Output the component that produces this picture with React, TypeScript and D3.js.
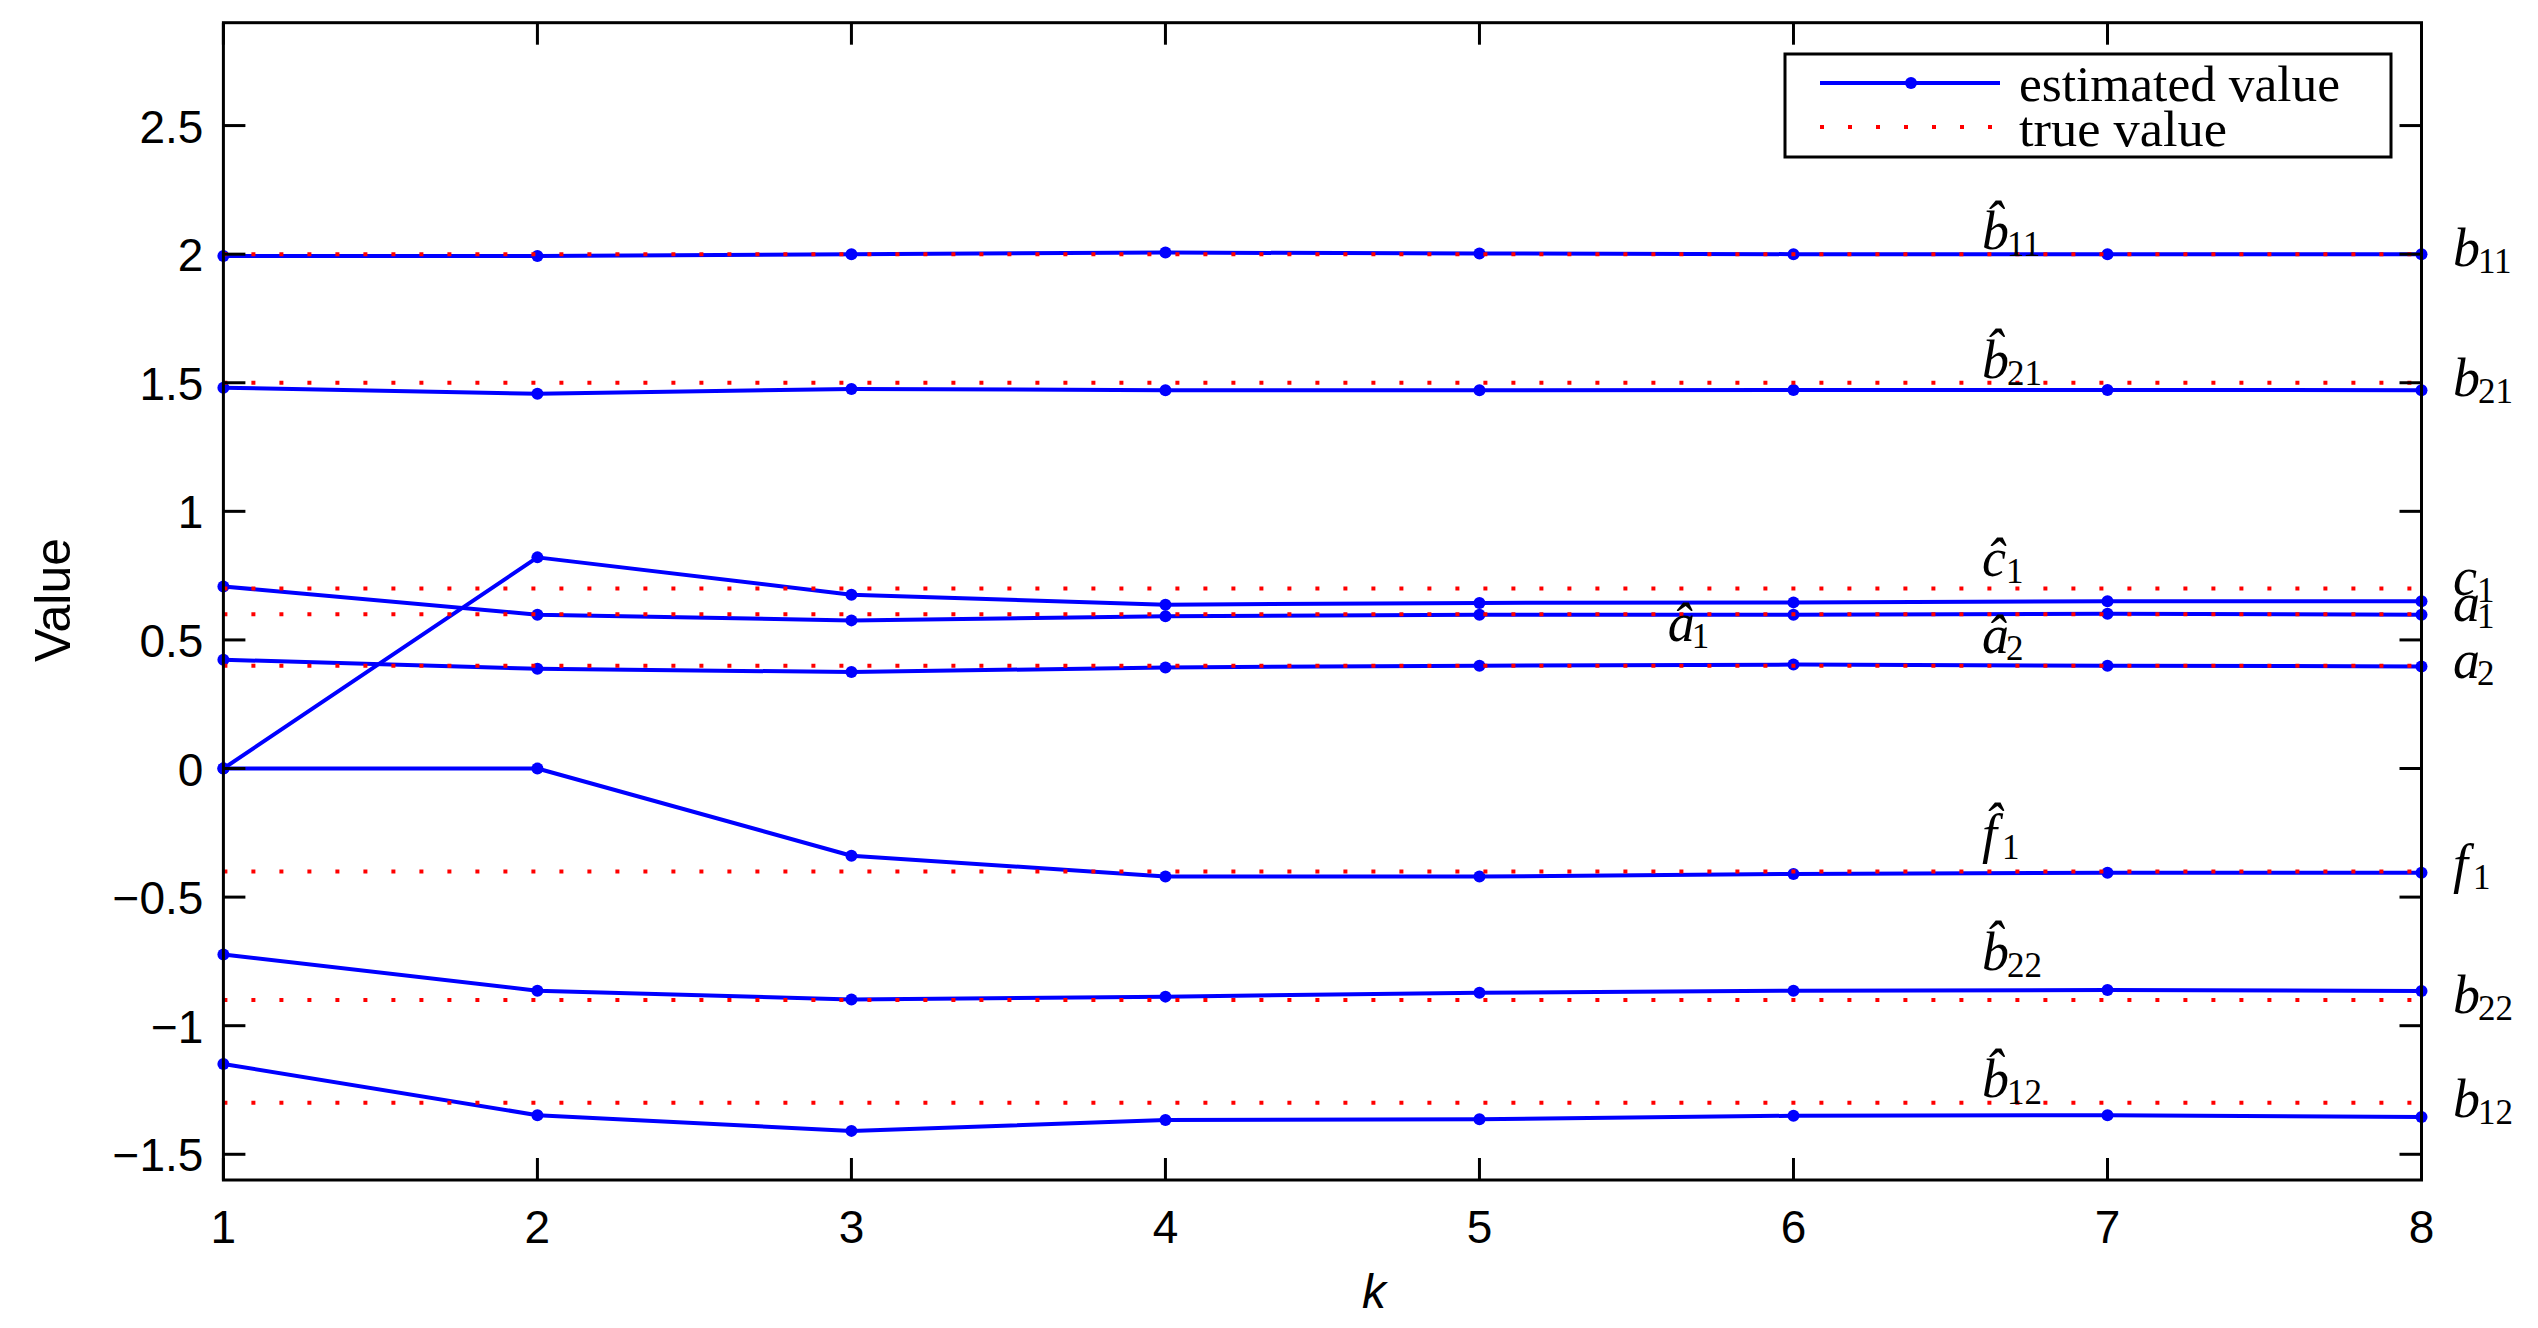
import React from "react";
import * as d3 from "d3";

// ---- data ----
const kValues = [1, 2, 3, 4, 5, 6, 7, 8];
const seriesNames = ["b11", "b21", "c1", "a1", "a2", "f1", "b22", "b12"];
const b11Est = [1.993, 1.993, 2.0, 2.006, 2.003, 2.0, 2.0, 2.0];
const b21Est = [1.481, 1.457, 1.476, 1.471, 1.471, 1.472, 1.472, 1.471];
const c1Est = [0, 0.821, 0.676, 0.637, 0.644, 0.646, 0.65, 0.65];
const a1Est = [0.708, 0.598, 0.576, 0.592, 0.598, 0.598, 0.602, 0.598];
const a2Est = [0.423, 0.388, 0.375, 0.393, 0.4, 0.404, 0.4, 0.397];
const f1Est = [0, 0, -0.339, -0.42, -0.42, -0.41, -0.405, -0.405];
const b22Est = [-0.723, -0.864, -0.898, -0.887, -0.872, -0.864, -0.861, -0.865];
const b12Est = [-1.149, -1.348, -1.409, -1.367, -1.364, -1.35, -1.348, -1.355];
const estimates = [b11Est, b21Est, c1Est, a1Est, a2Est, f1Est, b22Est, b12Est];
const trueValues = [2, 1.5, 0.7, 0.6, 0.4, -0.4, -0.9, -1.3];

const labelLetters = ["b", "b", "c", "a", "a", "f", "b", "b"];
const labelSubs = ["11", "21", "1", "1", "2", "1", "22", "12"];
const hatLabelK = [6.6, 6.6, 6.6, 5.6, 6.6, 6.6, 6.6, 6.6];
const hatLabelY = [2.019, 1.52, 0.75, 0.494, 0.449, -0.324, -0.784, -1.279];
const trueLabelK = 8.1;
const trueLabelY = [1.954, 1.448, 0.676, 0.572, 0.352, -0.44, -0.952, -1.355];

const yTicks = [-1.5, -1, -0.5, 0, 0.5, 1, 1.5, 2, 2.5];
const xTicks = [1, 2, 3, 4, 5, 6, 7, 8];
const yDomain = [-1.6, 2.9];
const xDomain = [1, 8];
const legendLabels = ["estimated value", "true value"];

// ---- layout ----
const W = 2538;
const H = 1328;
const left = 223.4;
const right = 2421.5;
const top = 22.7;
const bottom = 1180;
const BLUE = "#0000ff";
const RED = "#ff0000";
const TICK = 22;

export default function App() {
  const x = d3.scaleLinear().domain(xDomain).range([left, right]);
  const y = d3.scaleLinear().domain(yDomain).range([bottom, top]);
  const line = d3
    .line<number>()
    .x((_, i) => x(kValues[i]))
    .y((d) => y(d));

  const sansFont = "'Liberation Sans', Arial, Helvetica, sans-serif";
  const serifFont = "'Liberation Serif', 'Times New Roman', serif";

  const mathLabel = (
    key: string,
    px: number,
    py: number,
    letter: string,
    sub: string,
    hat: boolean
  ) => {
    const letterW = letter === "f" ? 16 : letter === "b" ? 24 : 23;
    const subX = px + letterW + (letter === "f" ? 4 : 1);
    return (
      <text key={key} x={px} y={py} fontFamily={serifFont} fontSize={54} fill="#000">
        <tspan fontStyle="italic">{hat ? letter + "\u0302" : letter}</tspan>
        <tspan x={subX} y={py + 7} fontSize={35}>
          {sub}
        </tspan>
      </text>
    );
  };

  return (
    <svg
      width={W}
      height={H}
      viewBox={`0 0 ${W} ${H}`}
      style={{ position: "absolute", left: 0, top: 0, background: "#fff" }}
    >
      <rect x={0} y={0} width={W} height={H} fill="#fff" />

      {/* estimated series */}
      {estimates.map((vals, si) => (
        <g key={seriesNames[si]}>
          <path d={line(vals) || ""} fill="none" stroke={BLUE} strokeWidth={4} strokeLinejoin="round" />
          {vals.map((v, i) => (
            <circle key={i} cx={x(kValues[i])} cy={y(v)} r={6} fill={BLUE} />
          ))}
        </g>
      ))}

      {/* true values */}
      {trueValues.map((tv, si) => (
        <line
          key={"t" + si}
          x1={x(xDomain[0])}
          x2={x(xDomain[1])}
          y1={y(tv)}
          y2={y(tv)}
          stroke={RED}
          strokeWidth={4}
          strokeDasharray="4 24"
        />
      ))}

      {/* axes box */}
      <rect x={left} y={top} width={right - left} height={bottom - top} fill="none" stroke="#000" strokeWidth={3} />
      {xTicks.map((t) => (
        <g key={"xt" + t}>
          <line x1={x(t)} x2={x(t)} y1={bottom} y2={bottom - TICK} stroke="#000" strokeWidth={3} />
          <line x1={x(t)} x2={x(t)} y1={top} y2={top + TICK} stroke="#000" strokeWidth={3} />
          <text x={x(t)} y={1243} textAnchor="middle" fontFamily={sansFont} fontSize={46} fill="#000">
            {t}
          </text>
        </g>
      ))}
      {yTicks.map((t) => (
        <g key={"yt" + t}>
          <line x1={left} x2={left + TICK} y1={y(t)} y2={y(t)} stroke="#000" strokeWidth={3} />
          <line x1={right} x2={right - TICK} y1={y(t)} y2={y(t)} stroke="#000" strokeWidth={3} />
          <text x={left - 20} y={y(t) + 17} textAnchor="end" fontFamily={sansFont} fontSize={46} fill="#000">
            {t < 0 ? "\u2212" + Math.abs(t) : String(t)}
          </text>
        </g>
      ))}

      {/* axis titles */}
      <text x={1374} y={1308} textAnchor="middle" fontFamily={sansFont} fontStyle="italic" fontSize={48} fill="#000">
        k
      </text>
      <text
        transform={`translate(70, 600) rotate(-90)`}
        textAnchor="middle"
        fontFamily={sansFont}
        fontSize={50}
        fill="#000"
      >
        Value
      </text>

      {/* math labels */}
      {seriesNames.map((n, si) =>
        mathLabel("h" + n, x(hatLabelK[si]), y(hatLabelY[si]), labelLetters[si], labelSubs[si], true)
      )}
      {seriesNames.map((n, si) =>
        mathLabel("r" + n, x(trueLabelK), y(trueLabelY[si]), labelLetters[si], labelSubs[si], false)
      )}

      {/* legend */}
      <rect x={1785} y={54} width={606} height={103} fill="#fff" stroke="#000" strokeWidth={3} />
      <line x1={1820} x2={2000} y1={83} y2={83} stroke={BLUE} strokeWidth={4} />
      <circle cx={1911} cy={83} r={6} fill={BLUE} />
      <line x1={1820} x2={2000} y1={127} y2={127} stroke={RED} strokeWidth={4} strokeDasharray="4 24" />
      <text x={2019} y={101} fontFamily={serifFont} fontSize={50} textLength={321} lengthAdjust="spacingAndGlyphs" fill="#000">
        {legendLabels[0]}
      </text>
      <text x={2019} y={146} fontFamily={serifFont} fontSize={50} textLength={208} lengthAdjust="spacingAndGlyphs" fill="#000">
        {legendLabels[1]}
      </text>
    </svg>
  );
}
